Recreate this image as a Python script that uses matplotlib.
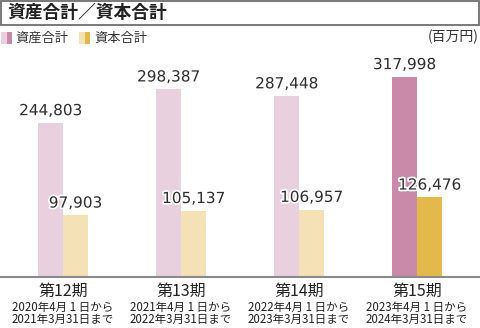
import matplotlib
matplotlib.use("Agg")
import matplotlib.pyplot as plt
from matplotlib.patches import Rectangle
import matplotlib.patheffects as pe

plt.rcParams['font.family'] = ['Noto Sans CJK JP', 'DejaVu Sans']

title = "資産合計／資本合計"
series_names = ["資産合計", "資本合計"]
unit_label = "(百万円)"
periods = ["第12期", "第13期", "第14期", "第15期"]
period_ranges = [
    "2020年4月 1 日から\n2021年3月31日まで",
    "2021年4月 1 日から\n2022年3月31日まで",
    "2022年4月 1 日から\n2023年3月31日まで",
    "2023年4月 1 日から\n2024年3月31日まで",
]
assets = [244803, 298387, 287448, 317998]
equity = [97903, 105137, 106957, 126476]

asset_colors = ["#e9d0df", "#e9d0df", "#e9d0df", "#c98aa9"]
equity_colors = ["#f4e2b6", "#f4e2b6", "#f4e2b6", "#e3b94b"]

W, H = 480, 328
fig = plt.figure(figsize=(W / 100, H / 100), dpi=100)

base_px = 277  # baseline from top
ax = fig.add_axes([0, (H - base_px) / H, 1, base_px / H])
ax.set_xlim(-63 / 118, (W - 63) / 118)
ax.set_ylim(0, 440400)
ax.axis('off')

bw = 25 / 118
n = len(periods)
xs = list(range(n))
ax.bar([x - bw / 2 for x in xs], assets, width=bw, color=asset_colors, linewidth=0)
ax.bar([x + bw / 2 for x in xs], equity, width=bw, color=equity_colors, linewidth=0)

stroke = [pe.withStroke(linewidth=2.5, foreground='white')]
for i in xs:
    ax.annotate(f"{assets[i]:,}", (i - bw / 2, assets[i]), xytext=(0, 3.5),
                textcoords='offset points', ha='center', va='bottom',
                fontsize=11, color='#2e2e2e', family='DejaVu Sans',
                path_effects=stroke)
    ax.annotate(f"{equity[i]:,}", (i + bw / 2, equity[i]), xytext=(0, 3.5),
                textcoords='offset points', ha='center', va='bottom',
                fontsize=11, color='#2e2e2e', family='DejaVu Sans',
                path_effects=stroke)

# baseline
fig.add_artist(plt.Line2D([0, 1], [(H - base_px) / H] * 2, color='#8a8a8a', lw=1.5))

# x labels
for i in xs:
    xf = (63 + 118 * i) / W
    fig.text(xf, 1 - 291.5 / H, periods[i], ha='center', va='center',
             fontsize=11.5, color='#222222')
    lines = period_ranges[i].split("\n")
    fig.text(xf, 1 - 307.5 / H, lines[0], ha='center', va='center',
             fontsize=8.3, color='#222222')
    fig.text(xf, 1 - 319.5 / H, lines[1], ha='center', va='center',
             fontsize=8.3, color='#222222')

# title box
fig.add_artist(Rectangle((0.6 / W, 1 - 24.5 / H), (W - 1.2) / W, 24 / H,
                         transform=fig.transFigure, facecolor='white',
                         edgecolor='#6e6e6e', linewidth=1.3))
fig.text(7 / W, 1 - 13 / H, title, ha='left', va='center', fontsize=12.8,
         fontweight='bold', color='#222222')

# legend
def swatch(x0, light, dark):
    fig.add_artist(Rectangle((x0 / W, 1 - 44 / H), 5.5 / W, 12 / H,
                             transform=fig.transFigure, facecolor=light, linewidth=0))
    fig.add_artist(Rectangle(((x0 + 5.5) / W, 1 - 44 / H), 5.5 / W, 12 / H,
                             transform=fig.transFigure, facecolor=dark, linewidth=0))

swatch(1, asset_colors[0], asset_colors[3])
fig.text(15 / W, 1 - 38 / H, series_names[0], ha='left', va='center', fontsize=9.5, color='#333333')
swatch(79, equity_colors[0], equity_colors[3])
fig.text(94 / W, 1 - 38 / H, series_names[1], ha='left', va='center', fontsize=9.5, color='#333333')

fig.text(479 / W, 1 - 37 / H, unit_label, ha='right', va='center', fontsize=10, color='#333333')

fig.savefig("out.png", dpi=100)
